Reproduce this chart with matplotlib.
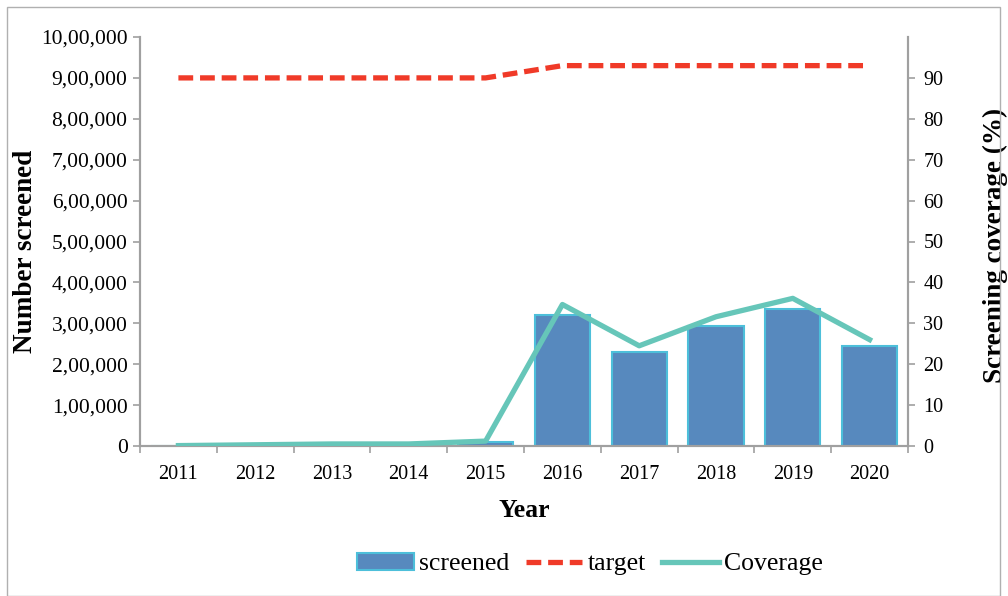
import matplotlib
matplotlib.use("Agg")
import matplotlib.pyplot as plt
import numpy as np
from matplotlib.ticker import FuncFormatter
from matplotlib.patches import Rectangle

years = ["2011", "2012", "2013", "2014", "2015", "2016", "2017", "2018", "2019", "2020"]
screened = [800, 2500, 4500, 4500, 10000, 320000, 230000, 293000, 335000, 244000]
target = [900000, 900000, 900000, 900000, 900000, 930000, 930000, 930000, 930000, 930000]
coverage = [0.1, 0.3, 0.5, 0.5, 1.2, 34.6, 24.5, 31.6, 36.1, 26.0]

plt.rcParams['font.family'] = ['Liberation Serif', 'DejaVu Serif']

BAR = "#5789BE"
EDGE = "#4DBFDA"
RED = "#F03A28"
TEAL = "#66C6B9"
GREY = "#A0A0A0"


def indian(v, pos=None):
    # 10,00,000 style grouping
    v = int(round(v))
    s = str(v)
    if len(s) <= 3:
        return s
    last = s[-3:]
    rest = s[:-3]
    parts = []
    while len(rest) > 2:
        parts.insert(0, rest[-2:])
        rest = rest[:-2]
    if rest:
        parts.insert(0, rest)
    return ",".join(parts + [last])


fig = plt.figure(figsize=(10.08, 5.96), dpi=100)
ax = fig.add_axes([140 / 1008, 1 - 446 / 596, 768 / 1008, 409 / 596])
ax2 = ax.twinx()

x = np.arange(len(years))
bars = ax.bar(x, screened, width=0.72, color=BAR, edgecolor=EDGE, linewidth=1.5,
              label="screened", zorder=2)
tl, = ax.plot(x, target, color=RED, linestyle=(0, (2.8, 1.3)), linewidth=3.8,
              label="target", zorder=3)
cl, = ax2.plot(x, coverage, color=TEAL, linewidth=3.8, label="Coverage", zorder=3)

ax.set_xlim(-0.5, len(years) - 0.5)
ax.set_ylim(0, 1000000)
ax.set_yticks(np.arange(0, 1000001, 100000))
ax.yaxis.set_major_formatter(FuncFormatter(indian))
ax2.set_ylim(0, 100)
ax2.set_yticks(np.arange(0, 91, 10))

ax.set_xticks(x)
ax.set_xticklabels(years)
ax.set_xticks(np.arange(-0.5, len(years), 1), minor=True)
ax.tick_params(axis="x", which="major", length=0, labelsize=14.5, pad=14)
ax.tick_params(axis="x", which="minor", length=5, color=GREY, width=1.2)
ax.tick_params(axis="y", length=5, color=GREY, width=1.2, labelsize=15.5, pad=4)
ax2.tick_params(axis="y", length=5, color=GREY, width=1.2, labelsize=14.5, pad=6)

for a in (ax, ax2):
    a.spines["top"].set_visible(False)
    for s in ("left", "right", "bottom"):
        a.spines[s].set_color(GREY)
        a.spines[s].set_linewidth(1.5)

ax.set_xlabel("Year", fontsize=18.5, fontweight="bold")
ax.xaxis.set_label_coords(0.5, -0.13)
ax.set_ylabel("Number screened", fontsize=19.5, fontweight="bold")
ax.yaxis.set_label_coords(-0.133, 0.475)
ax2.set_ylabel("Screening coverage (%)", fontsize=19.5, fontweight="bold")
ax2.yaxis.set_label_coords(1.097, 0.49)

ax.set_zorder(ax2.get_zorder() - 1)
ax2.patch.set_visible(False)

fig.legend(handles=[bars, tl, cl], loc="center", bbox_to_anchor=(590 / 1008, 1 - 564 / 596),
           ncol=3, frameon=False, fontsize=18.5, handlelength=2.2, handletextpad=0.2,
           columnspacing=0.65)

fig.patches.append(Rectangle((7 / 1008, 0), 993 / 1008, 1 - 7 / 596, transform=fig.transFigure,
                             fill=False, edgecolor="#B0B0B0", linewidth=1))

fig.savefig("out.png", dpi=100)
